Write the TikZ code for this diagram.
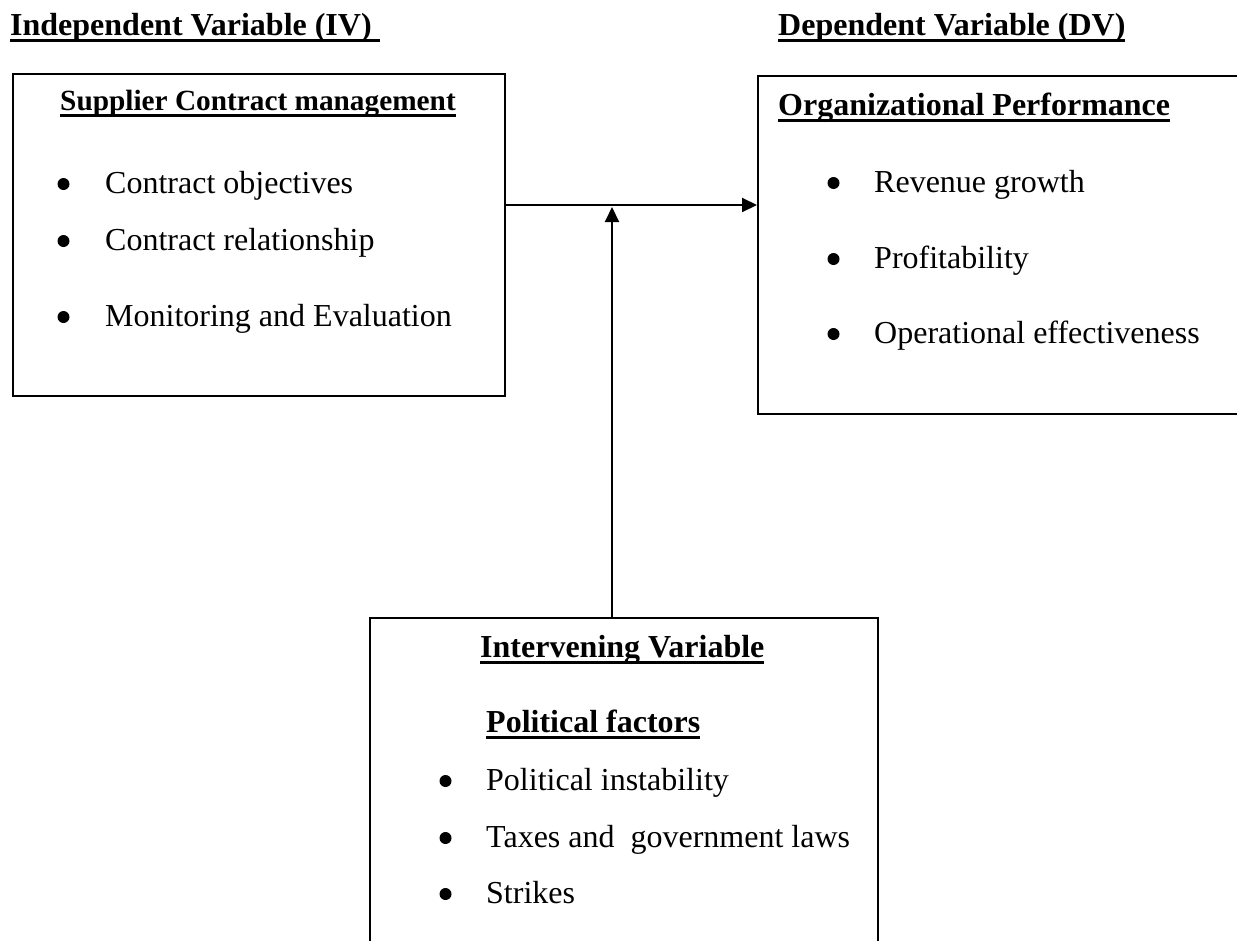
\documentclass[tikz,border=0pt]{standalone}
\usepackage{fontspec}
\setmainfont{Liberation Serif}
\usetikzlibrary{arrows.meta}
\newcommand{\myul}[1]{\setbox0\hbox{#1}\rlap{\rule[-7pt]{\wd0}{2.6pt}}\box0}
\begin{document}
\begin{tikzpicture}[x=1pt,y=-1pt,
  box/.style={draw,line width=2pt,inner sep=0,anchor=north west},
  txt/.style={inner sep=0,anchor=base west,font=\fontsize{32}{38}\selectfont},
  hd/.style={inner sep=0,anchor=base west,font=\fontsize{32}{38}\selectfont\bfseries},
  shd/.style={inner sep=0,anchor=base,font=\fontsize{29.3}{35}\selectfont\bfseries},
  bul/.style={circle,fill,inner sep=0,minimum size=12pt},
  arr/.style={line width=2pt,-{Triangle[length=15pt,width=14pt]}}]
\useasboundingbox (0,0) rectangle (1237,940);
\clip (0,0) rectangle (1237,940);
% titles
\node[hd] (ivt) at (10,35) {\myul{Independent Variable (IV)\ }};
\node[hd] (dvt) at (778,35) {\myul{Dependent Variable (DV)}};
% boxes
\node[box,minimum width=492pt,minimum height=322pt] (iv) at (12,73) {};
\node[box,minimum width=493pt,minimum height=338pt] (dv) at (757,75) {};
\node[box,minimum width=508pt,minimum height=343pt] (iu) at (369,617) {};
% left box
\node[shd] (ivh) at (258,110) {\myul{Supplier Contract management}};
\node[bul] (b1) at (63.5,184) {};
\node[txt] (l1) at (105,193) {Contract objectives};
\node[bul] (b2) at (63.5,241) {};
\node[txt] (l2) at (105,250) {Contract relationship};
\node[bul] (b3) at (63.5,317) {};
\node[txt] (l3) at (105,326) {Monitoring and Evaluation};
% right box
\node[hd] (dvh) at (778,115) {\myul{Organizational Performance}};
\node[bul] (b4) at (833.5,183) {};
\node[txt] (r1) at (874,192) {Revenue growth};
\node[bul] (b5) at (833.5,259) {};
\node[txt] (r2) at (874,268) {Profitability};
\node[bul] (b6) at (833.5,334) {};
\node[txt] (r3) at (874,343) {Operational effectiveness};
% bottom box
\node[hd] (iuh) at (480,657) {\myul{Intervening Variable}};
\node[hd] (pfh) at (486,732) {\myul{Political factors}};
\node[bul] (b7) at (445.5,781) {};
\node[txt] (m1) at (486,790) {Political instability};
\node[bul] (b8) at (445.5,838) {};
\node[txt] (m2) at (486,847) {Taxes and\ \ government laws};
\node[bul] (b9) at (445.5,894) {};
\node[txt] (m3) at (486,903) {Strikes};
% connectors
\coordinate (j) at (612,205);
\draw[arr] (iv.east |- j) -- (dv.west |- j);
\draw[arr] (iu.north -| j) -- ([yshift=-2pt]j);
\end{tikzpicture}
\end{document}
